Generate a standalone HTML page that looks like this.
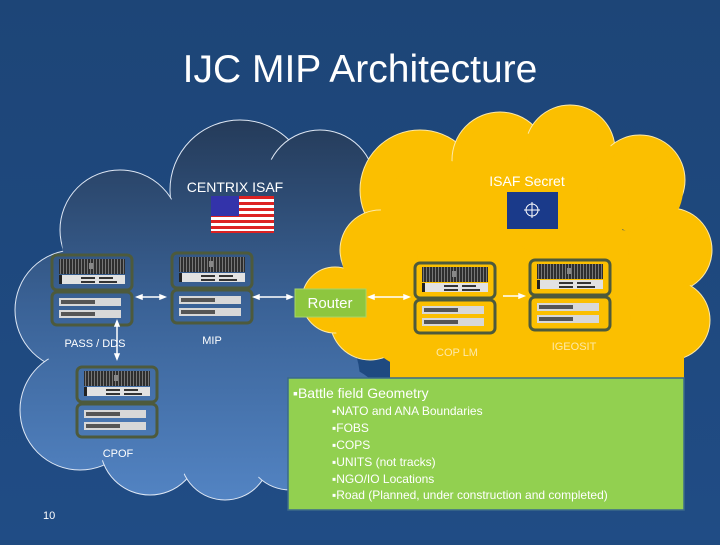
<!DOCTYPE html>
<html><head><style>
body{margin:0;width:720px;height:540px;overflow:hidden;background:#1f4a80;font-family:"Liberation Sans",sans-serif}
</style></head><body>
<svg width="720" height="540" xmlns="http://www.w3.org/2000/svg" font-family="Liberation Sans, sans-serif">
<defs>
<linearGradient id="bg" x1="0" y1="0" x2="0" y2="1"><stop offset="0" stop-color="#1d4577"/><stop offset="1" stop-color="#204c85"/></linearGradient>
<linearGradient id="bc" gradientUnits="userSpaceOnUse" x1="0" y1="115" x2="0" y2="495"><stop offset="0" stop-color="#243a58"/><stop offset="0.5" stop-color="#3a6296"/><stop offset="1" stop-color="#5283c2"/></linearGradient>
<pattern id="rk" width="3" height="16" patternUnits="userSpaceOnUse"><rect width="3" height="16" fill="#2e2e2e"/><rect width="1" height="16" fill="#777"/></pattern>
<g id="srv">
<rect x="1" y="1" width="80" height="35" rx="5" fill="none" stroke="#4d5a3c" stroke-width="3"/>
<rect x="8" y="5" width="66" height="15" fill="url(#rk)"/>
<rect x="38" y="9" width="4" height="6" fill="#888"/>
<rect x="8" y="21" width="66" height="9" fill="#e2e2e2"/>
<rect x="8" y="21" width="3" height="9" fill="#222"/>
<rect x="30" y="23" width="14" height="2" fill="#333"/><rect x="48" y="23" width="14" height="2" fill="#333"/>
<rect x="30" y="27" width="14" height="2" fill="#333"/><rect x="48" y="27" width="18" height="2" fill="#333"/>
<rect x="1" y="38" width="80" height="33" rx="5" fill="none" stroke="#4d5a3c" stroke-width="3"/>
<rect x="8" y="44" width="62" height="8" fill="#d8d8d8"/><rect x="10" y="46" width="34" height="4" fill="#555"/>
<rect x="8" y="56" width="62" height="8" fill="#d8d8d8"/><rect x="10" y="58" width="34" height="4" fill="#555"/>
</g>
</defs>
<rect width="720" height="540" fill="url(#bg)"/>
<text x="360" y="82" text-anchor="middle" font-size="39" fill="#fff">IJC MIP Architecture</text>
<!-- blue cloud -->
<g fill="url(#bc)" stroke="#dfe8f5" stroke-width="1">
<circle cx="240" cy="190" r="70"/>
<circle cx="320" cy="185" r="55"/>
<circle cx="120" cy="230" r="60"/>
<circle cx="75" cy="310" r="60"/>
<circle cx="80" cy="410" r="60"/>
<circle cx="150" cy="445" r="50"/>
<circle cx="225" cy="455" r="45"/>
<circle cx="290" cy="445" r="45"/>
<circle cx="345" cy="420" r="45"/>
</g>
<g fill="url(#bc)"><circle cx="220" cy="320" r="130"/><circle cx="140" cy="360" r="90"/><circle cx="280" cy="380" r="80"/><circle cx="300" cy="240" r="80"/><circle cx="240" cy="220" r="68"/><circle cx="320" cy="190" r="53"/><circle cx="120" cy="240" r="58"/><circle cx="80" cy="310" r="58"/><circle cx="85" cy="405" r="58"/><circle cx="150" cy="440" r="48"/><circle cx="225" cy="450" r="43"/><circle cx="290" cy="440" r="43"/><circle cx="340" cy="410" r="43"/></g>
<!-- yellow cloud -->
<g fill="#fbbf00" stroke="#fde9a8" stroke-width="1">
<circle cx="420" cy="190" r="60"/>
<circle cx="500" cy="160" r="48"/>
<circle cx="570" cy="150" r="45"/>
<circle cx="640" cy="180" r="45"/>
<circle cx="670" cy="250" r="42"/>
<circle cx="670" cy="320" r="40"/>
<circle cx="380" cy="250" r="40"/>
<circle cx="370" cy="320" r="40"/>
<circle cx="335" cy="300" r="33"/>
</g>
<g fill="#fbbf00"><circle cx="520" cy="270" r="110"/><circle cx="420" cy="310" r="60"/><circle cx="620" cy="300" r="70"/><circle cx="560" cy="200" r="60"/><circle cx="440" cy="220" r="60"/><circle cx="380" cy="258" r="38"/><circle cx="372" cy="320" r="38"/><circle cx="500" cy="170" r="46"/><circle cx="570" cy="160" r="43"/><circle cx="640" cy="190" r="43"/><circle cx="668" cy="252" r="40"/><circle cx="668" cy="318" r="38"/><rect x="390" y="320" width="294" height="60"/></g>
<text x="235" y="192" text-anchor="middle" font-size="14" fill="#fff">CENTRIX ISAF</text>
<g>
<rect x="211" y="196" width="63" height="37" fill="#fff"/>
<g fill="#d22">
<rect x="211" y="196" width="63" height="3"/><rect x="211" y="202" width="63" height="3"/><rect x="211" y="208" width="63" height="3"/><rect x="211" y="214" width="63" height="3"/><rect x="211" y="220" width="63" height="3"/><rect x="211" y="226" width="63" height="3"/><rect x="211" y="231" width="63" height="2"/>
</g>
<rect x="211" y="196" width="28" height="20" fill="#33a"/>
</g>
<text x="527" y="186" text-anchor="middle" font-size="14" fill="#fff">ISAF Secret</text>
<rect x="507" y="192" width="51" height="37" fill="#1a3a8a"/>
<circle cx="532" cy="210" r="6" fill="none" stroke="#fff" stroke-width="1"/>
<path d="M532 202v16M524 210h16" stroke="#fff" stroke-width="1"/>
<use href="#srv" x="51" y="254"/>
<use href="#srv" x="171" y="252"/>
<use href="#srv" x="76" y="366"/>
<use href="#srv" x="414" y="262"/>
<use href="#srv" x="529" y="259"/>
<rect x="295" y="289" width="71" height="28" fill="#8dc63f" stroke="#a7d46a"/>
<text x="330" y="308" text-anchor="middle" font-size="15" fill="#fff">Router</text>
<g stroke="#fff" stroke-width="1.5" fill="#fff">
<line x1="139" y1="297" x2="163" y2="297"/><path d="M137 297l5-2v4zM165 297l-5-2v4z"/>
<line x1="256" y1="297" x2="290" y2="297"/><path d="M254 297l5-2v4zM292 297l-5-2v4z"/>
<line x1="371" y1="297" x2="407" y2="297"/><path d="M369 297l5-2v4zM409 297l-5-2v4z"/>
<line x1="503" y1="296" x2="520" y2="296"/><path d="M524 296l-5-2v4z"/>
<line x1="117" y1="323" x2="117" y2="357"/><path d="M117 321l-2 5h4zM117 359l-2-5h4z"/>
</g>
<text x="95" y="347" text-anchor="middle" font-size="11" fill="#fff">PASS / DDS</text>
<text x="212" y="344" text-anchor="middle" font-size="11" fill="#fff">MIP</text>
<text x="118" y="457" text-anchor="middle" font-size="11" fill="#fff">CPOF</text>
<text x="457" y="356" text-anchor="middle" font-size="11" fill="#fde9a8">COP LM</text>
<text x="574" y="350" text-anchor="middle" font-size="11" fill="#fde9a8">IGEOSIT</text>
<rect x="288" y="378" width="396" height="132" fill="#92d050" stroke="#3a6a8a" stroke-width="1.5"/>
<g fill="#fff" font-size="12">
<text x="293" y="398" font-size="14">▪Battle field Geometry</text>
<text x="332" y="415">▪NATO and ANA Boundaries</text>
<text x="332" y="432">▪FOBS</text>
<text x="332" y="449">▪COPS</text>
<text x="332" y="466">▪UNITS (not tracks)</text>
<text x="332" y="483">▪NGO/IO Locations</text>
<text x="332" y="499">▪Road (Planned, under construction and completed)</text>
</g>
<text x="43" y="519" font-size="11" fill="#fff">10</text>
</svg>
</body></html>
